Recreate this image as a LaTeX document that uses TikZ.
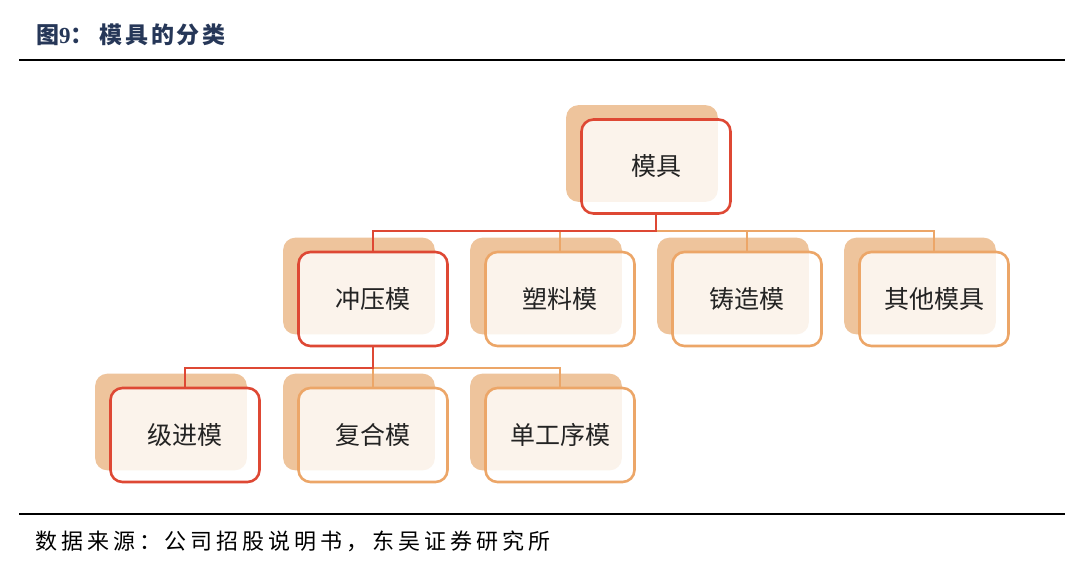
\documentclass[tikz,border=0pt]{standalone}
\usepackage{fontspec}
\setmainfont{Liberation Serif}
\newfontfamily\cjk{Noto Sans CJK SC}
\usetikzlibrary{calc}
\definecolor{redc}{RGB}{222,72,52}
\definecolor{orangec}{RGB}{236,166,104}
\definecolor{shadowc}{RGB}{238,196,156}
\definecolor{navy}{RGB}{38,55,88}
\definecolor{txt}{RGB}{35,35,35}
\pgfdeclarelayer{shadowlayer}
\pgfdeclarelayer{connlayer}
\pgfsetlayers{shadowlayer,connlayer,main}
\tikzset{
  box/.style={draw, line width=2.6pt, rounded corners=12pt, minimum width=149pt, minimum height=94pt,
    fill=white, fill opacity=0.8, text opacity=1, text=txt, font=\cjk\fontsize{25}{29}\selectfont, inner sep=0pt},
  redbox/.style={box, draw=redc},
  orbox/.style={box, draw=orangec},
  shadowfill/.style={fill=shadowc, rounded corners=12pt},
  redconn/.style={draw=redc, line width=2.4pt},
  orconn/.style={draw=orangec, line width=2.4pt},
  rulestyle/.style={line width=2.4pt, black}
}
\begin{document}
\begin{tikzpicture}[x=1pt,y=-1pt]
\useasboundingbox (0,0) rectangle (1080,568);
% title and rules
\node[anchor=west, text=navy, inner sep=0pt] (title) at (36,35)
  {\cjk\bfseries\fontsize{23}{27}\selectfont 图{\rmfamily\bfseries 9}：\hspace{6pt}{\addfontfeature{LetterSpace=12}模具的分类}};
\coordinate (r1a) at (19,60); \coordinate (r1b) at (1065,60);
\draw[rulestyle] (r1a) -- (r1b);
\coordinate (r2a) at (19,514); \coordinate (r2b) at (1065,514);
\draw[rulestyle] (r2a) -- (r2b);
\node[anchor=west, inner sep=0pt, text=black] (src) at (35,541)
  {\cjk\addfontfeature{LetterSpace=18}\fontsize{22}{26}\selectfont 数据来源：公司招股说明书，东吴证券研究所};

% boxes
\node[redbox] (top) at (656,166.5) {模具};
\node[redbox] (cy) at (373,299) {冲压模};
\node[orbox] (sl) at (560,299) {塑料模};
\node[orbox] (zz) at (747,299) {铸造模};
\node[orbox] (qt) at (934,299) {其他模具};
\node[redbox] (jj) at (185,435) {级进模};
\node[orbox] (fh) at (373,435) {复合模};
\node[orbox] (dg) at (560,435) {单工序模};

% shadows
\begin{pgfonlayer}{shadowlayer}
\foreach \n in {top,cy,sl,zz,qt,jj,fh,dg}{
  \path[shadowfill] ([shift={(-14,-13)}]\n.north west) rectangle ([shift={(-14,-13)}]\n.south east);
}
\end{pgfonlayer}

% connectors
\coordinate (lvA) at (0,231);
\coordinate (lvB) at (0,368);
\begin{pgfonlayer}{connlayer}
\draw[orconn] (top.south) -- (top.south |- lvA) -| (sl.north);
\draw[orconn] (top.south) -- (top.south |- lvA) -| (zz.north);
\draw[orconn] (top.south) -- (top.south |- lvA) -| (qt.north);
\draw[redconn] (top.south) -- (top.south |- lvA) -| (cy.north);
\draw[orconn] (cy.south) -- (cy.south |- lvB) -| (dg.north);
\draw[orconn] (cy.south) -- (fh.north);
\draw[redconn] (cy.south) -- (cy.south |- lvB) -| (jj.north);
\end{pgfonlayer}
\end{tikzpicture}
\end{document}
